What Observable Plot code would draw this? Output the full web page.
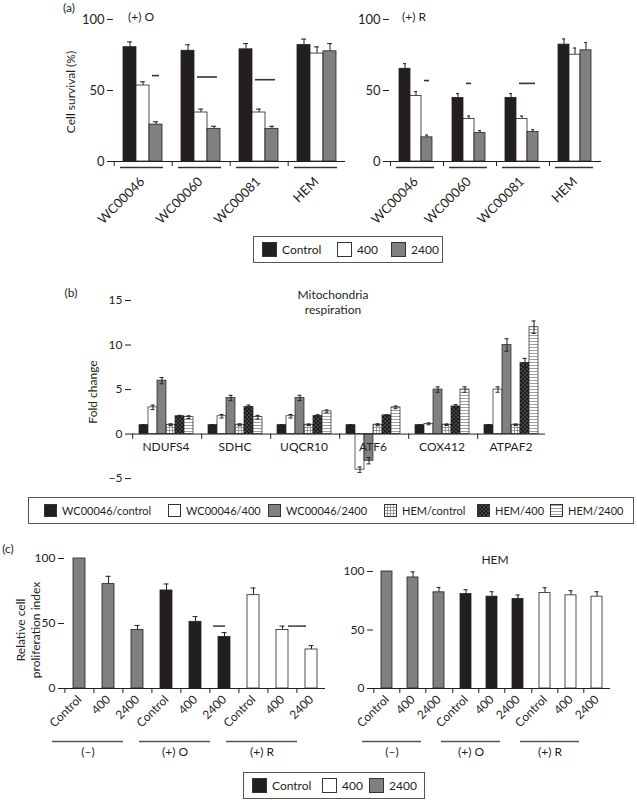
<!DOCTYPE html>
<html><head><meta charset="utf-8">
<script src="https://cdn.jsdelivr.net/npm/d3@7"></script>
<script src="https://cdn.jsdelivr.net/npm/@observablehq/plot@0.6"></script>
<style>
body{margin:0;background:#fff;font-family:Lato,"Open Sans",sans-serif;color:#231f20}
#root{position:relative;width:637px;height:800px;overflow:hidden;background:#fff}
.lbl{position:absolute;white-space:nowrap;transform:translate(-50%,-50%);font-size:12px;line-height:14px}
.vlbl{position:absolute;white-space:nowrap;transform:translate(-50%,-50%) rotate(-90deg);font-size:12px;text-align:center;line-height:15px}
.legend{position:absolute;border:1px solid #555;box-sizing:border-box;font-size:12px}
.item{position:absolute;top:0;height:100%;display:flex;align-items:center;white-space:nowrap}
.item svg{margin-right:5px;flex:none}
</style></head>
<body>
<svg width="0" height="0" style="position:absolute">
<defs>
<pattern id="pGrid" width="3" height="3" patternUnits="userSpaceOnUse">
<rect width="3" height="3" fill="#fff"/><path d="M0 0.5H3M0.5 0V3" stroke="#777" stroke-width="0.7"/>
</pattern>
<pattern id="pDots" width="4" height="4" patternUnits="userSpaceOnUse">
<rect width="4" height="4" fill="#1c1c1c"/><circle cx="1" cy="1" r="0.6" fill="#ccc"/><circle cx="3" cy="3" r="0.6" fill="#ccc"/>
</pattern>
<pattern id="pStripe" width="3" height="3" patternUnits="userSpaceOnUse">
<rect width="3" height="3" fill="#fff"/><path d="M0 1.5H3" stroke="#777" stroke-width="0.7"/>
</pattern>
</defs>
</svg>
<div id="root"></div>
<script>
// ---------- data ----------
const doses = ["Control", "400", "2400"];
const doseFills = ["#231f20", "#ffffff", "#808080"];
const cellLines = ["WC00046", "WC00060", "WC00081", "HEM"];

// (a) cell survival (%), rows = cell lines, cols = doses
const survOValues = [[80.5, 53.5, 26], [78, 34.5, 23], [79, 34.5, 23], [82, 76, 77.6]];
const survOErrors = [[3.7, 2.6, 2], [4.2, 2.4, 1.8], [4, 2.4, 1.8], [4.2, 4.7, 5.4]];
const survRValues = [[65.3, 46.2, 17], [44.8, 30, 20], [44.8, 30, 20.8], [82.3, 75.2, 78.3]];
const survRErrors = [[3.6, 3, 1.6], [3, 2, 1.7], [3, 2, 1.6], [4, 4.7, 5.4]];
const sigOGroups = ["WC00046", "WC00060", "WC00081"];
const sigOFrom = ["2400", "400", "400"];
const sigOTo = ["2400", "2400", "2400"];
const sigOLevel = [60.5, 59.5, 57.6];
const sigRGroups = ["WC00046", "WC00060", "WC00081"];
const sigRFrom = ["2400", "400", "400"];
const sigRTo = ["2400", "400", "2400"];
const sigRLevel = [57, 55, 55];

// (b) fold change
const genes = ["NDUFS4", "SDHC", "UQCR10", "ATF6", "COX412", "ATPAF2"];
const series = ["WC00046/control", "WC00046/400", "WC00046/2400", "HEM/control", "HEM/400", "HEM/2400"];
const seriesFills = ["#231f20", "#ffffff", "#808080", "url(#pGrid)", "url(#pDots)", "url(#pStripe)"];
const foldValues = [[1, 3, 6, 1.05, 2, 1.9], [1, 2, 4.05, 1.05, 3.05, 1.9], [1, 2, 4.05, 1.05, 2.05, 2.55], [1, -4, -3, 1.05, 2.1, 3], [1, 1.15, 5, 1.05, 3.1, 5], [1, 5, 10, 1.05, 8, 12]];
const foldErrors = [[0.05, 0.25, 0.35, 0.1, 0.1, 0.15], [0.05, 0.2, 0.3, 0.1, 0.2, 0.2], [0.05, 0.2, 0.3, 0.08, 0.12, 0.15], [0.05, 0.3, 0.35, 0.1, 0.05, 0.15], [0.05, 0.1, 0.3, 0.08, 0.2, 0.3], [0.05, 0.3, 0.7, 0.08, 0.5, 0.7]];

// (c) relative cell proliferation index, rows = conditions, cols = doses
const conditions = ["(–)", "(+) O", "(+) R"];
const condFills = ["#808080", "#231f20", "#ffffff"];
const prolWCValues = [[100, 80.3, 45], [75.4, 51.3, 39.7], [71.8, 45, 30]];
const prolWCErrors = [[0, 6, 3.5], [5, 4, 3.3], [5.5, 3, 3]];
const prolHEMValues = [[100, 94.9, 82.2], [80.7, 78.5, 76.5], [81.6, 79.6, 78.5]];
const prolHEMErrors = [[0, 4.8, 4.2], [3.7, 4.2, 3.4], [4.5, 4, 4.2]];
const sigCConds = ["(+) O", "(+) R"];
const sigCLevel = [48, 48];

// ---------- helpers ----------
const root = document.getElementById("root");
const INK = "#231f20";
const baseStyle = {background: "transparent", fontFamily: "Lato, 'Open Sans', sans-serif", fontSize: "12px", color: INK, overflow: "visible"};

function tidy(groups, keys, values, errors, gName, kName) {
  return groups.flatMap((g, i) => keys.map((k, j) => ({[gName]: g, [kName]: k, value: values[i][j], err: errors[i][j]})));
}
function place(el, left, top) {
  el.style.position = "absolute"; el.style.left = left + "px"; el.style.top = top + "px";
  root.appendChild(el);
}
function label(text, x, y, cls = "lbl", size) {
  const d = document.createElement("div");
  d.className = cls; d.innerHTML = text;
  d.style.left = x + "px"; d.style.top = y + "px";
  if (size) d.style.fontSize = size + "px";
  root.appendChild(d);
}
function legend(names, fills, left, top, width, height, offsets, sw, fs) {
  const box = document.createElement("div");
  box.className = "legend";
  Object.assign(box.style, {left: left + "px", top: top + "px", width: width + "px", height: height + "px", fontSize: fs + "px"});
  names.forEach((n, i) => {
    const it = document.createElement("div");
    it.className = "item"; it.style.left = offsets[i] + "px";
    it.innerHTML = `<svg width="${sw}" height="${sw}"><rect x="0.5" y="0.5" width="${sw - 1}" height="${sw - 1}" fill="${fills[i]}" stroke="#333"/></svg><span>${n}</span>`;
    box.appendChild(it);
  });
  root.appendChild(box);
}

// ---------- (a) ----------
function panelA(values, errors, sigG, sigF, sigT, sigL, o) {
  const data = tidy(cellLines, doses, values, errors, "group", "dose");
  const sig = sigG.map((g, i) => ({group: g, from: sigF[i], to: sigT[i], y: sigL[i]}));
  return Plot.plot({
    width: o.width, height: 230,
    marginLeft: o.ml, marginRight: o.mr, marginTop: 19, marginBottom: 69,
    style: baseStyle,
    fx: {domain: cellLines, padding: 0},
    x: {domain: doses, paddingInner: 0, paddingOuter: o.po},
    y: {domain: [0, 100]},
    color: {domain: doses, range: doseFills},
    marks: [
      Plot.ruleX(data, {fx: "group", x: "dose", y1: "value", y2: d => d.value + d.err, stroke: INK}),
      Plot.tickY(data, {fx: "group", x: "dose", y: d => d.value + d.err, insetLeft: 4, insetRight: 4, stroke: INK}),
      Plot.barY(data, {fx: "group", x: "dose", y: "value", fill: "dose", stroke: INK, strokeWidth: 0.8}),
      Plot.ruleY(sig, {fx: "group", x1: "from", x2: "to", y: "y", insetLeft: 3, insetRight: 3, strokeWidth: 1.6, stroke: "#333"}),
      Plot.ruleY([0], {stroke: INK}),
      Plot.ruleY([0], {dy: 6, insetLeft: 7, insetRight: 8, strokeWidth: 1.5, stroke: "#333"}),
      Plot.axisX({ticks: ["Control"], tickSize: 5, dx: o.bdx, tickFormat: () => "", label: null}),
      Plot.axisY({ticks: [0, 50, 100], tickSize: 6, line: true, label: null, fontSize: 13}),
      Plot.axisFx({anchor: "bottom", tickSize: 0, tickPadding: 18, tickRotate: -45, label: null, fontSize: 13})
    ]
  });
}
place(panelA(survOValues, survOErrors, sigOGroups, sigOFrom, sigOTo, sigOLevel, {width: 346, ml: 113, mr: 1, po: 0.7, bdx: -15.8}), 0, 0);
place(panelA(survRValues, survRErrors, sigRGroups, sigRFrom, sigRTo, sigRLevel, {width: 291, ml: 43, mr: 36, po: 0.71, bdx: -14.5}), 346, 0);
label("(a)", 69, 8);
label("(+) O", 141, 17);
label("(+) R", 414, 17);
label("Cell survival (%)", 70, 92, "vlbl");
legend(doses, doseFills, 253, 236, 190, 27, [8, 83, 137], 15, 12);

// ---------- (b) ----------
const foldData = tidy(genes, series, foldValues, foldErrors, "gene", "series");
place(Plot.plot({
  width: 637, height: 212,
  marginLeft: 130, marginRight: 92, marginTop: 20, marginBottom: 5,
  style: baseStyle,
  fx: {domain: genes, padding: 0, axis: null},
  x: {domain: series, paddingInner: 0, paddingOuter: 0.72, axis: null},
  y: {domain: [-6, 15]},
  color: {domain: series, range: seriesFills},
  marks: [
    Plot.barY(foldData, {fx: "gene", x: "series", y: "value", fill: "series", stroke: INK, strokeWidth: 0.7}),
    Plot.ruleX(foldData, {fx: "gene", x: "series", y1: d => d.value - d.err, y2: d => d.value + d.err, stroke: INK}),
    Plot.tickY(foldData, {fx: "gene", x: "series", y: d => d.value + d.err, insetLeft: 2.5, insetRight: 2.5, stroke: INK}),
    Plot.tickY(foldData, {fx: "gene", x: "series", y: d => d.value - d.err, insetLeft: 2.5, insetRight: 2.5, stroke: INK}),
    Plot.ruleY([0], {stroke: INK}),
    Plot.ruleX([series[0]], {x: d => d, y1: 0, y2: -0.6, dx: -11.3, stroke: INK}),
    Plot.text(genes, {fx: d => d, y: 0, text: d => d, dy: 13, fontSize: 12, fill: INK}),
    Plot.axisY({ticks: [-5, 0, 5, 10, 15], tickSize: 6, line: true, label: null, fontSize: 12})
  ]
}), 0, 280);
label("(b)", 71, 293);
label("Mitochondria", 333, 295);
label("respiration", 333, 310);
label("Fold change", 92, 392, "vlbl");
legend(series, seriesFills, 28, 497, 606, 27, [15, 139, 239, 355, 448, 521], 13, 11);

// ---------- (c) ----------
function panelC(values, errors, sigConds, sigLevel, o) {
  const data = tidy(conditions, doses, values, errors, "cond", "dose");
  const sig = sigConds.map((c, i) => ({cond: c, y: sigLevel[i]}));
  return Plot.plot({
    width: o.width, height: 230,
    marginLeft: o.ml, marginRight: o.mr, marginTop: o.mt, marginBottom: 82,
    style: baseStyle,
    fx: {domain: conditions, padding: 0},
    x: {domain: doses, paddingInner: o.pi, paddingOuter: o.pi / 2},
    y: {domain: [0, 100]},
    color: {domain: conditions, range: condFills},
    marks: [
      Plot.ruleX(data.filter(d => d.err > 0), {fx: "cond", x: "dose", y1: "value", y2: d => d.value + d.err, stroke: INK}),
      Plot.tickY(data.filter(d => d.err > 0), {fx: "cond", x: "dose", y: d => d.value + d.err, insetLeft: 3.5, insetRight: 3.5, stroke: INK}),
      Plot.barY(data, {fx: "cond", x: "dose", y: "value", fill: "cond", stroke: INK, strokeWidth: 0.8}),
      Plot.ruleY(sig.filter(d => d.cond === "(+) O"), {fx: "cond", x1: () => "2400", x2: () => "2400", y: "y", dx: -5, strokeWidth: 1.6, stroke: "#444"}),
      Plot.ruleY(sig.filter(d => d.cond === "(+) R"), {fx: "cond", x1: () => "400", x2: () => "2400", y: "y", insetLeft: 12, insetRight: 11, strokeWidth: 1.6, stroke: "#444"}),
      Plot.ruleY([0], {stroke: INK}),
      Plot.ruleY([0], {dy: 53, dx: o.gdx, insetLeft: o.gin, insetRight: o.gin, strokeWidth: 1.6, stroke: "#555"}),
      Plot.axisX({tickSize: 5, dx: o.bdx, tickFormat: () => "", label: null}),
      Plot.axisX({tickSize: 0, tickPadding: 9, tickRotate: -45, label: null, fontSize: 12}),
      Plot.axisY({ticks: [0, 50, 100], tickSize: 6, line: true, label: null, fontSize: 12}),
      Plot.axisFx({anchor: "bottom", tickSize: 0, tickPadding: 59, dx: o.gdx, label: null, fontSize: 12})
    ]
  });
}
place(panelC(prolWCValues, prolWCErrors, sigCConds, sigCLevel, {width: 340, ml: 63, mr: 14, mt: 18, pi: 0.6, bdx: -14.6, gdx: -20, gin: 8}), 0, 540);
place(panelC(prolHEMValues, prolHEMErrors, [], [], {width: 297, ml: 33, mr: 27, mt: 31, pi: 0.58, bdx: -13.2, gdx: -21, gin: 10}), 340, 540);
label("(c)", 8, 549);
label("Relative cell<br>proliferation index", 28, 630, "vlbl");
label("HEM", 495, 560);
legend(doses, doseFills, 243, 772, 182, 27, [8, 78, 125], 15, 12);
</script>
</body></html>
